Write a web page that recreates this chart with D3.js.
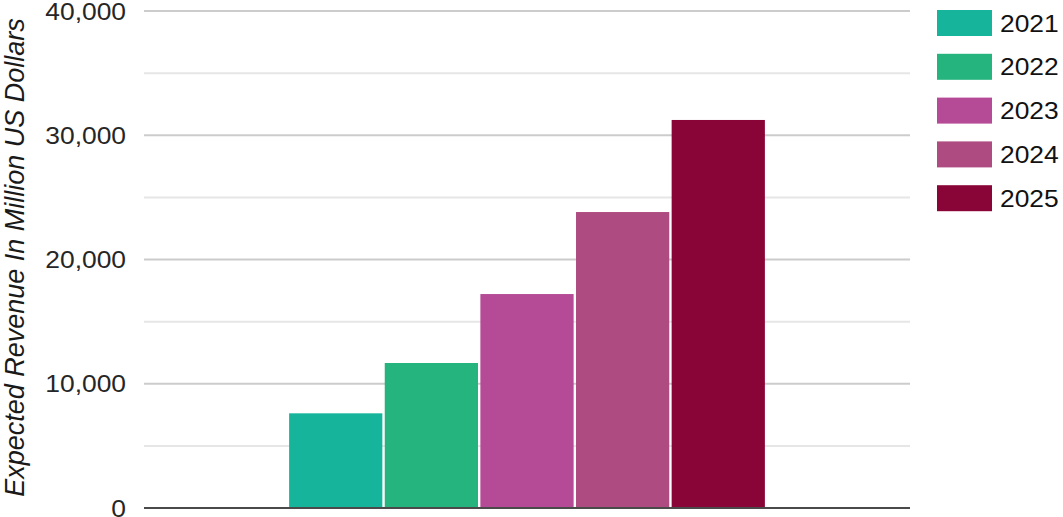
<!DOCTYPE html>
<html>
<head>
<meta charset="utf-8">
<script src="https://cdn.jsdelivr.net/npm/d3@7"></script>
<style>
  html, body { margin: 0; padding: 0; background: #fff; }
  svg { display: block; font-family: "Liberation Sans", Arial, sans-serif; }
</style>
</head>
<body>
<svg id="chart" width="1063" height="517"></svg>
<script>
const years = ["2021", "2022", "2023", "2024", "2025"];
const values = [7620, 11670, 17220, 23820, 31230];
const colors = ["#16b59b", "#26b47e", "#b54a96", "#ae4c81", "#8a0537"];
const yTicks = [0, 10000, 20000, 30000, 40000];
const yMinorTicks = [5000, 15000, 25000, 35000];
const yTitle = "Expected Revenue In Million US Dollars";

(function () {
const svg = d3.select("#chart");
const mLeft = 144, mRight = 910, mTop = 11, mBottom = 508;

const y = d3.scaleLinear().domain([0, 40000]).range([mBottom, mTop]);
const x0 = d3.scaleBand().domain(["all"]).range([mLeft, mRight]).paddingOuter(0.305).paddingInner(0);
const x1 = d3.scaleBand().domain(years).range([0, x0.bandwidth()]).paddingInner(0.025).paddingOuter(0);

// minor gridlines
svg.append("g").selectAll("line").data(yMinorTicks).join("line")
  .attr("x1", mLeft).attr("x2", mRight)
  .attr("y1", d => y(d)).attr("y2", d => y(d))
  .attr("stroke", "#e6e6e6").attr("stroke-width", 2);

// major gridlines
svg.append("g").selectAll("line").data(yTicks.filter(d => d > 0)).join("line")
  .attr("x1", mLeft).attr("x2", mRight)
  .attr("y1", d => y(d)).attr("y2", d => y(d))
  .attr("stroke", "#cccccc").attr("stroke-width", 2);

// bars
const fmt = d3.format(",");
svg.append("g").attr("transform", `translate(${x0("all")},0)`)
  .selectAll("rect").data(years).join("rect")
  .attr("x", d => x1(d))
  .attr("width", x1.bandwidth())
  .attr("y", (d, i) => y(values[i]))
  .attr("height", (d, i) => y(0) - y(values[i]))
  .attr("fill", (d, i) => colors[i]);

// baseline
svg.append("line")
  .attr("x1", mLeft).attr("x2", mRight)
  .attr("y1", y(0)).attr("y2", y(0))
  .attr("stroke", "#4a4a4a").attr("stroke-width", 2);

// y tick labels
svg.append("g").selectAll("text").data(yTicks).join("text")
  .attr("transform", d => `translate(126,${y(d)}) scale(1.1,1)`)
  .attr("text-anchor", "end")
  .attr("dominant-baseline", "central")
  .attr("font-size", 24)
  .attr("fill", "#262626")
  .text(d => fmt(d));

// y title
svg.append("text")
  .attr("transform", `translate(24,${(mTop + mBottom) / 2 - 2}) rotate(-90)`)
  .attr("text-anchor", "middle")
  .attr("font-size", 27)
  .attr("font-style", "italic")
  .attr("fill", "#1a1a1a")
  .text(yTitle);

// legend
const legend = svg.append("g").selectAll("g").data(years).join("g")
  .attr("transform", (d, i) => `translate(937,${10 + i * 43.8})`);
legend.append("rect")
  .attr("width", 55).attr("height", 26)
  .attr("fill", (d, i) => colors[i]);
legend.append("text")
  .attr("transform", "translate(63,13) scale(1.1,1)")
  .attr("dominant-baseline", "central")
  .attr("font-size", 24)
  .attr("fill", "#111")
  .text(d => d);
})();
</script>
</body>
</html>
